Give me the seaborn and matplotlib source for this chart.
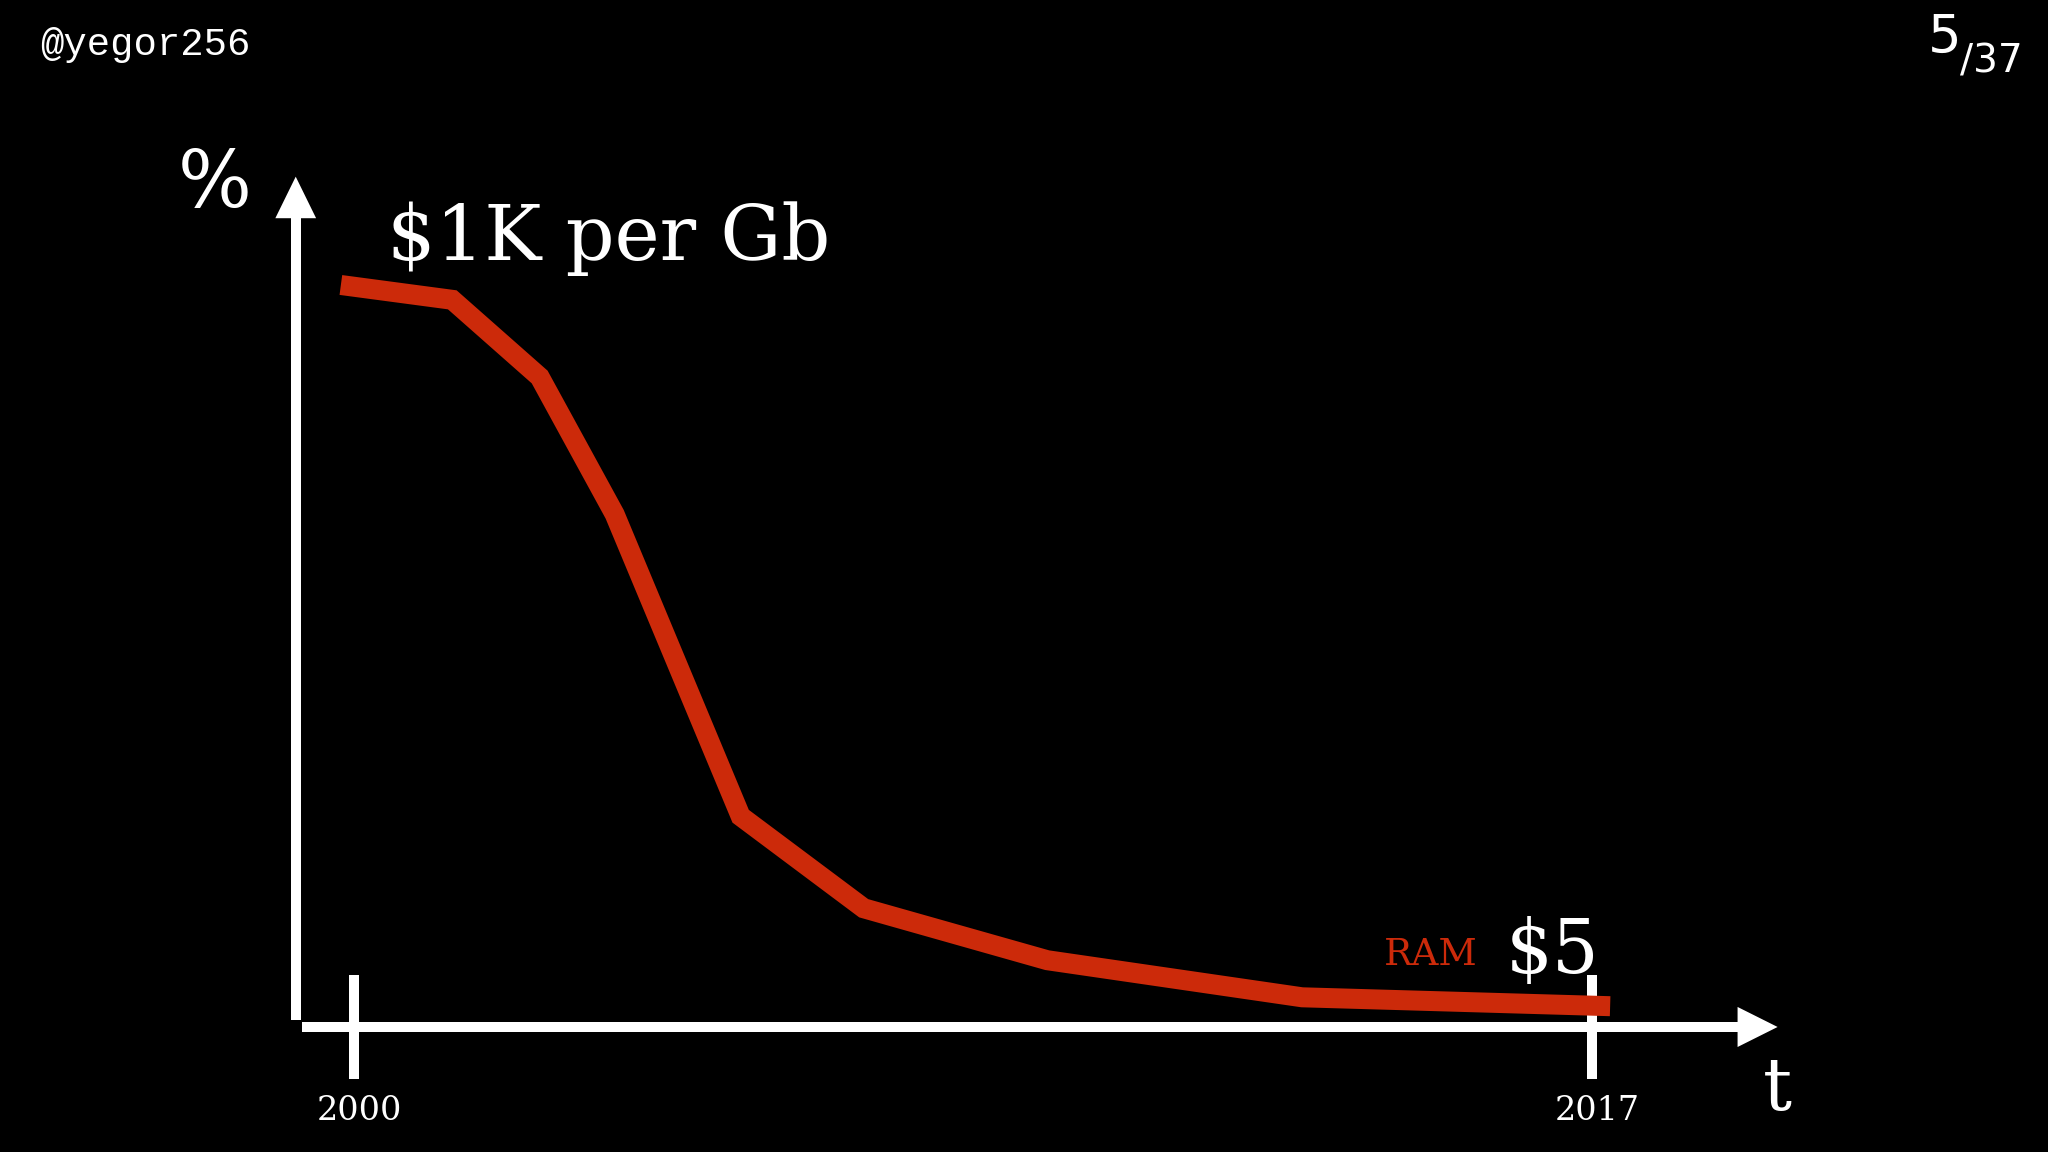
import matplotlib.pyplot as plt
import matplotlib.transforms as mtransforms
import seaborn as sns

# RAM price curve (relative scale, 100 = $1K per Gb)
years = [1999.82, 2001.35, 2002.55, 2003.58, 2005.31, 2007.00, 2009.52, 2013.02, 2017.25]
price = [100.0, 98.0, 87.6, 69.1, 28.4, 16.0, 9.0, 4.0, 2.8]
tick_years = [2000, 2017]
tick_labels = ["2000", "2017"]

RED = "#cc2a0a"
W, H = 2048, 1152
SERIF = "DejaVu Serif"

sns.set_theme(style="dark", rc={"axes.facecolor": "black", "figure.facecolor": "black"})

fig = plt.figure(figsize=(W / 100, H / 100), dpi=100)
ax = fig.add_axes([0, 0, 1, 1])
ax.set_xlim(1995.139, 2023.263)
ax.set_ylim(-16.85, 138.41)
ax.grid(False)

sns.lineplot(x=years, y=price, ax=ax, color=RED, linewidth=14.4,
             solid_capstyle="butt", solid_joinstyle="miter")

# axes as arrows
y_axis_x = 1999.2
for side in ["top", "right"]:
    ax.spines[side].set_visible(False)
ax.spines["left"].set_position(("data", y_axis_x))
ax.spines["left"].set_bounds(1.6, 109.3)
ax.spines["bottom"].set_position(("data", 0))
ax.spines["bottom"].set_bounds(1999.35, 2019.05)
for side in ["left", "bottom"]:
    ax.spines[side].set_color("white")
    ax.spines[side].set_linewidth(7.2)

ax.fill([y_axis_x - 0.28, y_axis_x + 0.28, y_axis_x], [109.0, 109.0, 114.6],
        color="white", lw=0)
ax.fill([2019.0, 2019.0, 2019.55], [2.7, -2.7, 0], color="white", lw=0)

ax.set_yticks([])
ax.set_xticks(tick_years)
ax.set_xticklabels(tick_labels, family=SERIF)
ax.tick_params(axis="x", direction="inout", length=75.6, width=7.2, colors="white",
               labelsize=24, pad=11, bottom=True)
# labels sit a little right of the tick marks on the slide
shift = mtransforms.ScaledTranslation(5 / 100, 0, fig.dpi_scale_trans)
for lab in ax.get_xticklabels():
    lab.set_transform(lab.get_transform() + shift)


def ftext(px, py, s, **kw):
    fig.text(px / W, 1 - py / H, s, va="baseline", **kw)


ftext(387, 260, "$1K per Gb", color="white", fontsize=55, family=SERIF)
ftext(1478, 965, "RAM", color=RED, fontsize=27, family=SERIF, ha="right")
ftext(1506, 973, "$5", color="white", fontsize=53, family=SERIF)
ftext(1763, 1110, "t", color="white", fontsize=52, family=SERIF)
ftext(178, 207, "%", color="white", fontsize=56, family=SERIF)

ftext(40, 55, "@yegor256", color="white", fontsize=28, family="Liberation Mono")
ftext(1928, 53, "5", color="white", fontsize=38, family="DejaVu Sans")
ftext(1960, 72, "/37", color="white", fontsize=28, family="DejaVu Sans")

fig.savefig("out.png", dpi=100, facecolor="black")
